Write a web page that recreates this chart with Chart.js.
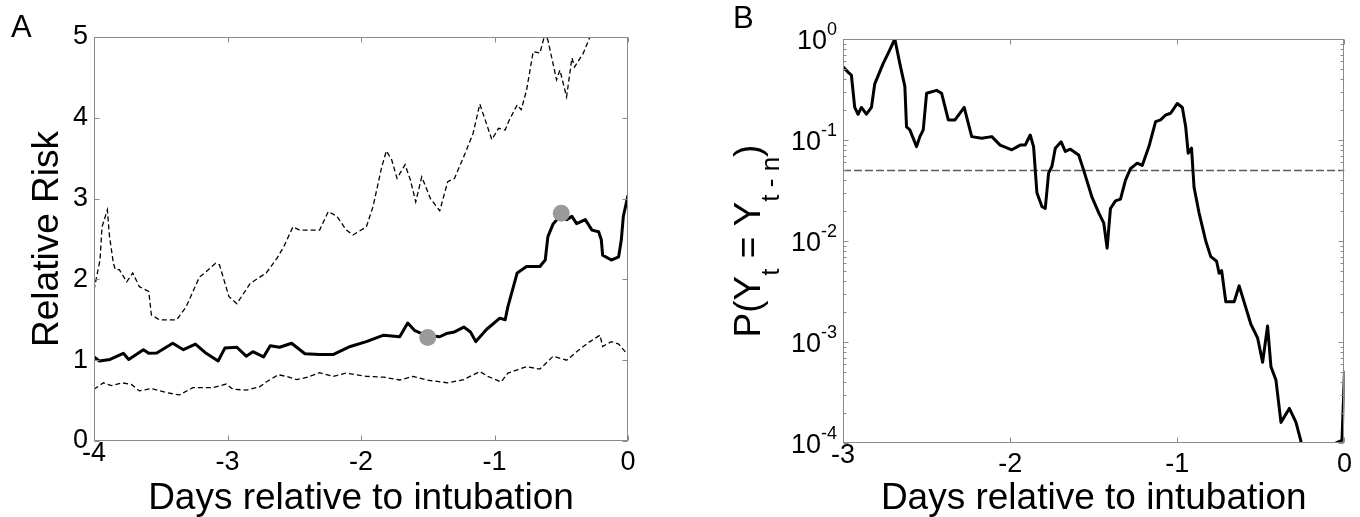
<!DOCTYPE html>
<html>
<head>
<meta charset="utf-8">
<script src="https://cdn.jsdelivr.net/npm/chart.js@4"></script>
<style>
  html, body { margin: 0; padding: 0; background: #fff; }
  #wrap { position: relative; width: 1360px; height: 517px; }
  canvas { position: absolute; top: 0; }
  #chartA { left: 0; }
  #chartB { left: 680px; }
</style>
</head>
<body>
<div id="wrap">
  <canvas id="chartA" width="680" height="517"></canvas>
  <canvas id="chartB" width="680" height="517"></canvas>
</div>
<script>
const FONT = "'Liberation Sans', Arial, Helvetica, sans-serif";
const FRAME = '#8a8a8a';

// Panel A: relative risk with confidence band
const meanDays = [-4.00,-3.96,-3.88,-3.78,-3.74,-3.63,-3.59,-3.53,-3.41,-3.33,-3.24,-3.16,-3.07,-3.02,-2.93,-2.86,-2.81,-2.73,-2.68,-2.61,-2.52,-2.42,-2.31,-2.21,-2.08,-1.96,-1.83,-1.71,-1.65,-1.60,-1.52,-1.41,-1.36,-1.30,-1.23,-1.18,-1.14,-1.06,-0.96,-0.92,-0.90,-0.83,-0.76,-0.66,-0.62,-0.60,-0.56,-0.50,-0.46,-0.42,-0.385,-0.32,-0.27,-0.22,-0.20,-0.19,-0.125,-0.07,-0.05,-0.035,0];
const meanRR = [1.04,0.99,1.01,1.085,1.01,1.13,1.085,1.09,1.21,1.13,1.20,1.085,0.99,1.15,1.16,1.05,1.105,1.04,1.18,1.16,1.21,1.08,1.07,1.07,1.17,1.23,1.31,1.29,1.46,1.37,1.31,1.29,1.33,1.35,1.41,1.35,1.23,1.38,1.52,1.50,1.66,2.08,2.16,2.16,2.24,2.53,2.69,2.80,2.74,2.78,2.69,2.74,2.61,2.59,2.49,2.30,2.24,2.28,2.49,2.78,3.04];

const upperDays = [-4.00,-3.955,-3.94,-3.90,-3.885,-3.855,-3.84,-3.81,-3.755,-3.71,-3.66,-3.59,-3.57,-3.51,-3.38,-3.31,-3.21,-3.17,-3.09,-3.06,-2.99,-2.93,-2.83,-2.71,-2.63,-2.58,-2.51,-2.46,-2.31,-2.245,-2.18,-2.11,-2.06,-1.96,-1.91,-1.845,-1.81,-1.77,-1.73,-1.67,-1.63,-1.59,-1.545,-1.48,-1.41,-1.35,-1.30,-1.22,-1.16,-1.11,-1.02,-0.97,-0.92,-0.89,-0.83,-0.80,-0.76,-0.71,-0.66,-0.62,-0.60,-0.535,-0.51,-0.46,-0.42,-0.40,-0.335,-0.285,-0.15,0];
const upperRR = [1.87,2.24,2.65,2.86,2.55,2.20,2.12,2.12,1.97,2.08,1.91,1.85,1.56,1.50,1.50,1.66,2.03,2.08,2.20,2.18,1.79,1.70,1.95,2.08,2.26,2.40,2.65,2.61,2.61,2.84,2.78,2.61,2.55,2.65,2.90,3.39,3.59,3.48,3.25,3.42,3.23,2.96,3.27,3.00,2.85,3.21,3.25,3.56,3.81,4.17,3.73,3.87,3.85,3.97,4.16,4.10,4.34,4.82,4.80,5.05,4.96,4.47,4.59,4.26,4.74,4.63,4.80,5.00,5.5,5.9];

const lowerDays = [-4.00,-3.93,-3.87,-3.79,-3.72,-3.66,-3.57,-3.46,-3.36,-3.26,-3.11,-3.01,-2.96,-2.86,-2.76,-2.71,-2.62,-2.56,-2.48,-2.40,-2.31,-2.21,-2.11,-1.96,-1.83,-1.71,-1.61,-1.51,-1.35,-1.23,-1.11,-1.05,-0.95,-0.90,-0.76,-0.66,-0.56,-0.46,-0.385,-0.285,-0.21,-0.19,-0.125,-0.07,0];
const lowerRR = [0.64,0.72,0.685,0.72,0.70,0.62,0.65,0.60,0.57,0.66,0.66,0.705,0.64,0.63,0.67,0.73,0.82,0.80,0.76,0.79,0.845,0.80,0.84,0.80,0.79,0.755,0.80,0.755,0.72,0.76,0.86,0.80,0.73,0.84,0.92,0.89,1.05,1.00,1.105,1.23,1.31,1.17,1.23,1.20,1.065];

const markDays = [-1.5, -0.5];
const markRR = [1.28, 2.82];

// Panel B: probability on a log axis
const probDays = [-3.00,-2.97,-2.95,-2.93,-2.91,-2.89,-2.86,-2.83,-2.81,-2.76,-2.73,-2.69,-2.66,-2.63,-2.62,-2.60,-2.56,-2.54,-2.52,-2.50,-2.44,-2.41,-2.37,-2.33,-2.275,-2.23,-2.17,-2.11,-2.06,-1.99,-1.94,-1.91,-1.88,-1.86,-1.84,-1.81,-1.79,-1.77,-1.75,-1.73,-1.695,-1.67,-1.64,-1.59,-1.56,-1.51,-1.47,-1.44,-1.42,-1.40,-1.37,-1.34,-1.31,-1.28,-1.24,-1.21,-1.17,-1.13,-1.10,-1.07,-1.04,-1.00,-0.97,-0.95,-0.935,-0.915,-0.90,-0.87,-0.83,-0.80,-0.765,-0.75,-0.735,-0.71,-0.66,-0.63,-0.56,-0.52,-0.49,-0.46,-0.44,-0.41,-0.38,-0.33,-0.29,-0.26,-0.20,-0.12,-0.06,-0.04,-0.015,0];
const probValues = [0.53,0.47,0.44,0.21,0.18,0.21,0.18,0.21,0.36,0.57,0.72,1.0,0.57,0.34,0.135,0.126,0.086,0.108,0.126,0.29,0.31,0.29,0.158,0.158,0.21,0.108,0.104,0.108,0.089,0.080,0.089,0.089,0.112,0.086,0.030,0.022,0.021,0.047,0.055,0.083,0.096,0.077,0.081,0.071,0.050,0.027,0.019,0.015,0.0085,0.021,0.025,0.026,0.040,0.052,0.059,0.056,0.086,0.152,0.158,0.177,0.184,0.23,0.21,0.135,0.074,0.083,0.034,0.019,0.010,0.0070,0.0063,0.0048,0.0051,0.0025,0.0025,0.0036,0.0015,0.0011,0.00063,0.00144,0.00057,0.00042,0.00016,0.00022,0.00016,0.000103,0.00005,0.00004,0.000098,0.000102,0.000106,0.00052];

const alphaDays = [-3, 0];
const alphaLevel = [0.05, 0.05];
const decadeExps = [-4, -3, -2, -1, 0];

const pts = (xs, ys) => xs.map((x, i) => ({ x, y: ys[i] }));
const isPow10 = v => Math.abs(Math.log10(v) - Math.round(Math.log10(v))) < 1e-9;

const TICK_PX = 27;
const TICK_PAD = 8;

// box frame plus inward ticks on all four sides, matlab style
const boxAxes = {
  id: 'boxAxes',
  afterDatasetsDraw(chart) {
    const { ctx, chartArea: a, scales: { x, y } } = chart;
    const L = Math.round(a.left) + 0.5, R = Math.round(a.right) - 0.5;
    const T = Math.round(a.top) + 0.5, B = Math.round(a.bottom) - 0.5;
    ctx.save();
    ctx.strokeStyle = FRAME;
    ctx.lineWidth = 1;
    ctx.beginPath();
    x.ticks.forEach(t => {
      const px = Math.round(x.getPixelForValue(t.value)) + 0.5;
      ctx.moveTo(px, B); ctx.lineTo(px, B - 5);
      ctx.moveTo(px, T); ctx.lineTo(px, T + 5);
    });
    let yVals = y.ticks.map(t => t.value);
    if (y.type === 'logarithmic') {
      yVals = [];
      for (let e = Math.round(Math.log10(y.min)); e < Math.round(Math.log10(y.max)); e++) {
        for (let m = 1; m < 10; m++) yVals.push(m * Math.pow(10, e));
      }
      yVals.push(y.max);
    }
    yVals.forEach(v => {
      const len = (y.type !== 'logarithmic' || isPow10(v)) ? 5 : 3;
      const py = Math.round(y.getPixelForValue(v)) + 0.5;
      ctx.moveTo(L, py); ctx.lineTo(L + len, py);
      ctx.moveTo(R, py); ctx.lineTo(R - len, py);
    });
    ctx.stroke();
    ctx.strokeRect(L, T, R - L, B - T);
    ctx.restore();
  }
};

// panel letter, raised first x label, log labels, subscripted title
const decorations = {
  id: 'decorations',
  afterDraw(chart, args, o) {
    const { ctx, chartArea: a, scales: { x, y } } = chart;
    ctx.save();
    ctx.fillStyle = '#000';
    ctx.textAlign = 'left';
    ctx.textBaseline = 'alphabetic';
    ctx.font = `31px ${FONT}`;
    ctx.fillText(o.letter, o.letterX, o.letterY);

    const first = x.ticks[0];
    ctx.font = `${TICK_PX}px ${FONT}`;
    ctx.textAlign = 'center';
    ctx.textBaseline = 'middle';
    ctx.fillText(first.label, x.getPixelForValue(first.value), a.bottom + TICK_PAD + TICK_PX / 2 - 9);

    if (o.exps) {
      ctx.textAlign = 'left';
      ctx.textBaseline = 'alphabetic';
      o.exps.forEach(e => {
        const py = y.getPixelForValue(Math.pow(10, e));
        const sup = String(e);
        ctx.font = `18px ${FONT}`;
        const ws = ctx.measureText(sup).width;
        ctx.font = `${TICK_PX}px ${FONT}`;
        const wb = ctx.measureText('10').width;
        const right = a.left - 6;
        ctx.fillText('10', right - ws - wb, py + 9.5);
        ctx.font = `18px ${FONT}`;
        ctx.fillText(sup, right - ws, py + 9.5 - 14);
      });
    }

    if (o.titleParts) {
      const fonts = [`37px ${FONT}`, `26px ${FONT}`];
      ctx.translate(o.titleX, (a.top + a.bottom) / 2);
      ctx.rotate(-Math.PI / 2);
      let total = 0;
      const widths = o.titleParts.map(([t, s]) => {
        ctx.font = fonts[s];
        const w = ctx.measureText(t).width;
        total += w;
        return w;
      });
      let u = -total / 2;
      o.titleParts.forEach(([t, s], i) => {
        ctx.font = fonts[s];
        ctx.fillText(t, u, s ? 19 : 0);
        u += widths[i];
      });
    }
    ctx.restore();
  }
};

const tickFont = { family: FONT, size: TICK_PX, lineHeight: 1 };
const titleFont = { family: FONT, size: 37, lineHeight: 1 };
const hideFirst = c => (c.index === 0 ? 'rgba(0,0,0,0)' : '#000');

new Chart(document.getElementById('chartA'), {
  type: 'scatter',
  data: {
    datasets: [
      { data: pts(markDays, markRR), pointRadius: 8.5, pointHoverRadius: 8.5, pointBackgroundColor: '#9a9a9a', pointBorderWidth: 0 },
      { data: pts(meanDays, meanRR), showLine: true, borderColor: '#000', borderWidth: 3, pointRadius: 0, pointHoverRadius: 0, tension: 0, borderJoinStyle: 'round' },
      { data: pts(upperDays, upperRR), showLine: true, borderColor: '#000', borderWidth: 1.3, borderDash: [5, 3], pointRadius: 0, pointHoverRadius: 0, tension: 0 },
      { data: pts(lowerDays, lowerRR), showLine: true, borderColor: '#000', borderWidth: 1.3, borderDash: [5, 3], pointRadius: 0, pointHoverRadius: 0, tension: 0 }
    ]
  },
  options: {
    responsive: false,
    animation: false,
    events: [],
    layout: { padding: { top: 37, right: 52, left: 0, bottom: 0 } },
    plugins: {
      legend: { display: false },
      tooltip: { enabled: false },
      decorations: { letter: 'A', letterX: 11, letterY: 37 }
    },
    scales: {
      x: {
        type: 'linear', min: -4, max: 0,
        ticks: { stepSize: 1, font: tickFont, color: hideFirst, padding: TICK_PAD, maxRotation: 0, autoSkip: false },
        grid: { display: false, drawTicks: false },
        border: { display: false },
        title: { display: true, text: 'Days relative to intubation', font: titleFont, color: '#000', padding: { top: 0, bottom: 0 } },
        afterFit: s => { s.height = 76; }
      },
      y: {
        type: 'linear', min: 0, max: 5,
        ticks: { stepSize: 1, font: tickFont, color: '#000', padding: 6 },
        grid: { display: false, drawTicks: false },
        border: { display: false },
        title: { display: true, text: 'Relative Risk', font: titleFont, color: '#000', padding: { top: 29.5, bottom: 0 } },
        afterFit: s => { s.width = 94; }
      }
    }
  },
  plugins: [boxAxes, decorations]
});

new Chart(document.getElementById('chartB'), {
  type: 'scatter',
  data: {
    datasets: [
      { data: pts(probDays, probValues), showLine: true, borderColor: '#000', borderWidth: 3, pointRadius: 0, pointHoverRadius: 0, tension: 0, borderJoinStyle: 'round' },
      { data: pts(alphaDays, alphaLevel), showLine: true, borderColor: '#5a5a5a', borderWidth: 1.5, borderDash: [8, 3], pointRadius: 0, pointHoverRadius: 0, tension: 0 }
    ]
  },
  options: {
    responsive: false,
    animation: false,
    events: [],
    layout: { padding: { top: 39, right: 12, left: 0, bottom: 0 } },
    plugins: {
      legend: { display: false },
      tooltip: { enabled: false },
      decorations: {
        letter: 'B', letterX: 53, letterY: 28,
        exps: decadeExps,
        titleX: 80,
        titleParts: [['P(Y', 0], ['t', 1], [' = Y', 0], ['t - n', 1], [')', 0]]
      }
    },
    scales: {
      x: {
        type: 'linear', min: -3, max: 0,
        ticks: { stepSize: 1, font: tickFont, color: hideFirst, padding: TICK_PAD, maxRotation: 0, autoSkip: false },
        grid: { display: false, drawTicks: false },
        border: { display: false },
        title: { display: true, text: 'Days relative to intubation', font: titleFont, color: '#000', padding: { top: 0, bottom: 0 } },
        afterFit: s => { s.height = 74; }
      },
      y: {
        type: 'logarithmic', min: 1e-4, max: 1,
        ticks: { display: false },
        grid: { display: false, drawTicks: false },
        border: { display: false },
        afterFit: s => { s.width = 163; }
      }
    }
  },
  plugins: [boxAxes, decorations]
});
</script>
</body>
</html>
